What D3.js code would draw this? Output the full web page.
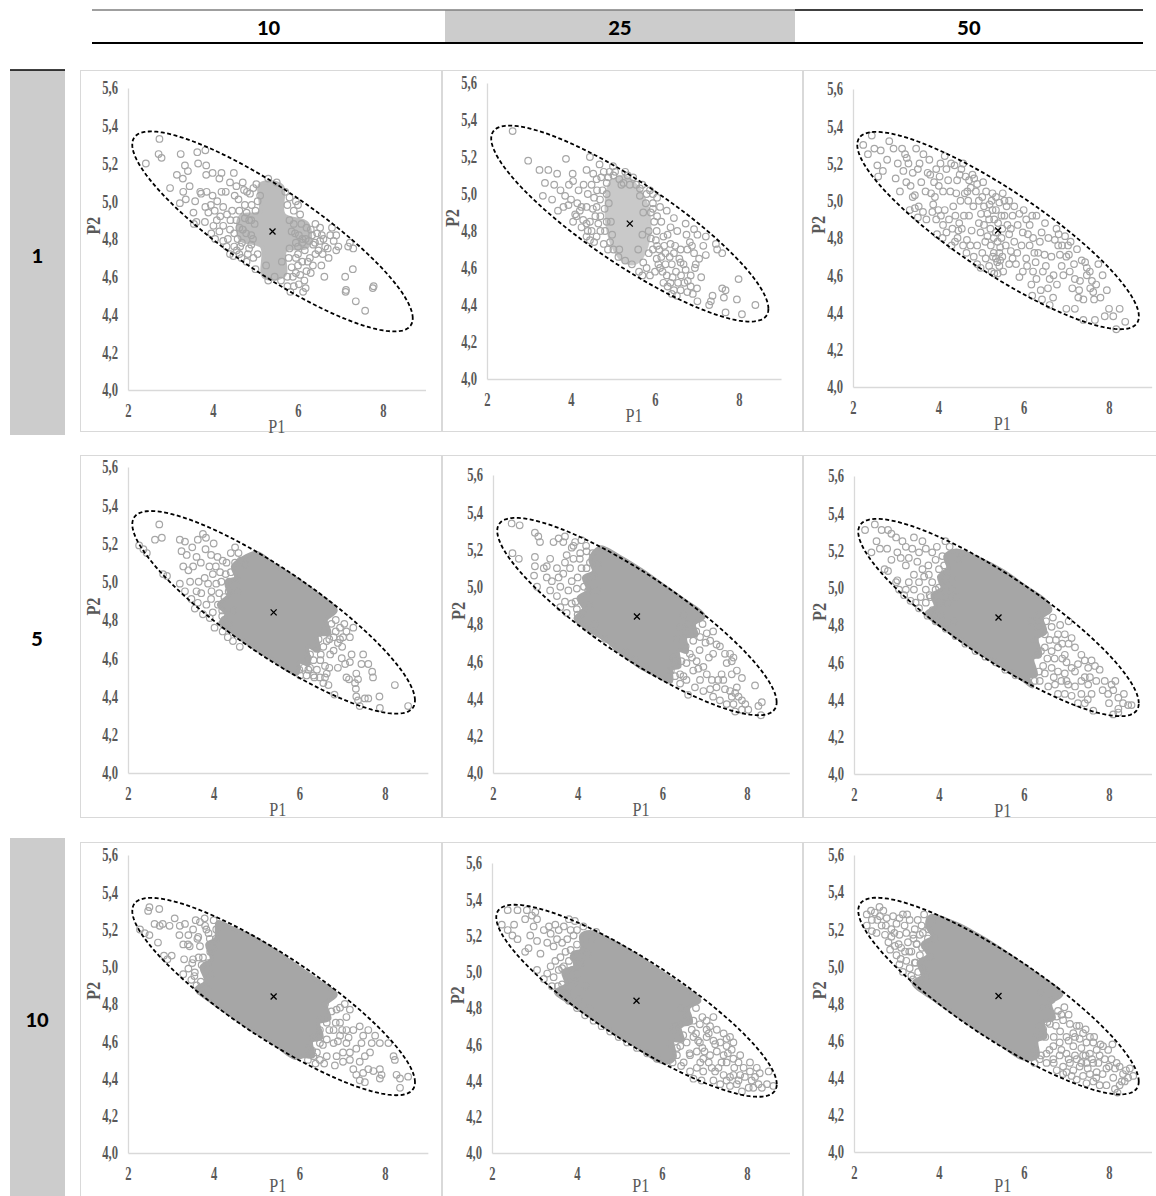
<!DOCTYPE html>
<html>
<head>
<meta charset="utf-8">
<script src="https://cdnjs.cloudflare.com/ajax/libs/d3/7.8.5/d3.min.js"></script>
<style>
  body { margin: 0; background: #fff; }
</style>
</head>
<body>
<div id="chart"></div>
<script>
// ---- data ----
var colLabels = ["10", "25", "50"];
var rowLabels = ["1", "5", "10"];
var xTicks = [2, 4, 6, 8];
var yTicks = [4.0, 4.2, 4.4, 4.6, 4.8, 5.0, 5.2, 5.4, 5.6];
var centre = [5.4, 4.84];
// confidence ellipse: P1 = cx + a cos t, P2 = cy + b cos t + c sin t
var ellipseAxes = [3.3, -0.46, 0.263];

// row "1"
var pts_1_10 = [[2.42,5.20],[2.74,5.33],[2.72,5.25],[2.79,5.23],[2.99,5.07],[3.24,5.25],[3.34,5.19],[3.29,5.12],[3.41,5.16],[3.30,5.05],[3.36,5.01],[3.22,4.99],[3.58,5.00],[3.54,4.94],[3.55,4.88],[3.61,4.89],[3.65,5.20],[3.63,5.26],[3.82,5.27],[3.84,5.19],[3.84,5.14],[3.70,5.05],[3.72,5.04],[3.82,4.97],[3.81,4.89],[3.99,5.15],[4.20,5.15],[4.15,5.12],[3.99,5.03],[3.89,4.94],[4.04,4.95],[4.09,4.90],[4.17,4.92],[4.24,4.87],[4.49,5.15],[4.70,5.10],[4.73,5.06],[4.51,5.03],[4.60,5.01],[4.24,4.97],[4.33,4.93],[4.41,4.90],[4.15,4.84],[4.24,4.79],[4.32,4.76],[3.96,4.83],[4.05,4.80],[4.01,4.87],[4.56,4.74],[4.67,4.70],[4.79,4.68],[4.48,4.71],[4.64,4.76],[4.87,5.04],[4.95,5.07],[5.11,5.03],[4.91,4.98],[4.79,4.94],[4.45,4.95],[4.55,4.90],[4.62,4.86],[4.50,4.83],[4.40,4.85],[4.35,4.80],[4.58,4.80],[4.70,4.85],[4.85,4.90],[4.90,4.82],[4.85,4.75],[4.95,4.70],[5.00,4.64],[5.05,4.72],[4.98,4.88],[5.05,5.00],[5.02,5.09],[5.30,5.12],[5.50,5.10],[5.70,5.05],[5.75,4.98],[5.80,4.90],[5.90,4.95],[5.85,4.84],[5.95,4.78],[5.78,4.70],[5.85,4.65],[5.75,4.60],[5.60,4.58],[5.45,4.60],[5.30,4.58],[5.25,4.66],[5.62,4.68],[4.70,4.85],[4.78,4.83],[4.94,4.80],[5.93,4.83],[6.02,4.82],[6.10,4.78],[6.18,4.80],[6.26,4.79],[5.90,4.88],[6.00,4.76],[4.75,4.91],[5.80,4.75],[5.95,4.70],[6.00,4.98],[6.05,4.93],[6.20,4.86],[6.33,4.82],[6.56,4.82],[6.76,4.82],[6.84,4.79],[6.64,4.76],[6.41,4.72],[6.23,4.68],[6.20,4.63],[6.05,4.61],[5.90,4.55],[5.82,4.52],[6.16,4.74],[6.36,4.77],[6.52,4.79],[6.41,4.88],[6.10,4.80],[6.30,4.85],[6.45,4.83],[6.60,4.80],[6.70,4.75],[6.28,4.70],[6.10,4.68],[6.00,4.72],[6.15,4.58],[6.30,4.62],[6.55,4.66],[6.62,4.60],[6.12,4.52],[6.18,4.54],[6.95,4.76],[6.90,4.74],[7.18,4.76],[7.22,4.78],[7.11,4.60],[7.13,4.53],[7.29,4.64],[7.36,4.47],[7.58,4.42],[7.78,4.55],[7.76,4.54],[7.12,4.52],[7.30,4.75],[4.30,5.05],[4.40,5.10],[4.55,5.08],[4.62,4.95],[4.75,4.98],[4.80,5.05],[4.40,4.72],[4.50,4.76],[4.68,4.78],[4.62,4.72],[4.82,4.72],[4.90,4.77],[4.90,4.90],[5.00,4.95],[5.80,5.02],[5.95,5.00],[6.08,4.88],[6.40,4.78],[6.48,4.74],[6.58,4.72],[6.72,4.70],[6.80,4.86],[6.90,4.82],[6.52,4.86],[6.00,4.66],[6.35,4.66],[5.88,4.60],[5.95,4.62],[6.02,4.56],[5.75,4.55],[4.20,5.05],[4.10,5.00],[3.95,4.98],[3.45,5.08],[3.15,5.14],[3.85,5.05]];
var core_1_10 = [[5.12,5.09],[5.62,5.08],[5.66,4.93],[6.22,4.88],[6.22,4.76],[5.70,4.74],[5.68,4.61],[5.20,4.60],[5.15,4.76],[4.65,4.80],[4.65,4.92],[5.10,4.94]];

var pts_1_25 = [[2.61,5.34],[2.98,5.18],[3.25,5.13],[3.46,5.13],[3.38,5.06],[3.33,4.99],[3.67,5.11],[3.88,5.19],[4.04,5.11],[4.05,5.07],[3.86,4.99],[3.82,4.93],[3.69,4.91],[3.94,4.94],[4.10,4.89],[4.05,4.85],[4.29,4.86],[4.25,4.82],[4.45,4.85],[4.61,4.93],[4.37,4.93],[4.25,4.93],[4.49,5.05],[4.61,5.08],[4.45,5.20],[4.68,5.16],[4.37,5.13],[4.53,5.11],[4.72,5.09],[4.85,5.00],[4.69,4.97],[4.89,5.09],[5.01,5.10],[5.00,5.15],[5.29,5.12],[5.48,5.09],[5.64,5.03],[4.13,4.88],[4.21,4.91],[4.37,4.84],[4.49,4.80],[4.61,4.77],[4.81,4.80],[4.93,4.74],[5.01,4.70],[5.13,4.66],[5.29,4.64],[5.45,4.62],[4.37,4.77],[4.45,4.75],[5.64,4.99],[5.88,5.02],[5.72,4.90],[5.95,4.95],[6.12,4.93],[6.28,4.91],[6.45,4.87],[6.37,4.82],[6.53,4.80],[6.73,4.84],[6.93,4.81],[7.01,4.78],[7.21,4.77],[6.04,4.80],[6.20,4.77],[6.37,4.73],[6.45,4.68],[6.61,4.70],[5.95,4.70],[6.04,4.65],[6.12,4.60],[6.28,4.56],[6.37,4.52],[5.80,4.60],[5.88,4.56],[5.72,4.63],[6.61,4.63],[6.73,4.59],[6.85,4.56],[6.97,4.62],[6.93,4.68],[6.83,4.74],[6.77,4.70],[6.61,4.48],[6.77,4.47],[7.00,4.49],[7.01,4.42],[7.21,4.67],[7.45,4.73],[7.48,4.70],[7.60,4.68],[7.37,4.45],[7.33,4.42],[7.29,4.40],[7.60,4.49],[7.68,4.48],[7.64,4.44],[7.68,4.36],[7.95,4.43],[7.99,4.54],[8.07,4.35],[8.39,4.40],[4.75,5.02],[4.80,4.92],[4.90,4.95],[4.95,4.85],[4.70,4.88],[4.85,4.85],[5.90,4.90],[5.98,4.85],[6.05,4.88],[6.15,4.85],[6.22,4.72],[6.30,4.78],[6.15,4.66],[6.25,4.62],[6.05,4.72],[5.90,4.76],[5.85,4.68],[5.70,4.56],[5.62,4.58],[6.00,4.58],[6.40,4.62],[6.50,4.58],[6.55,4.52],[6.45,4.48],[6.30,4.50],[6.20,4.52],[6.70,4.52],[6.85,4.50],[5.80,5.00],[5.95,5.00],[6.05,4.98],[5.40,5.05],[5.20,5.05],[5.15,4.70],[5.60,4.70],[5.70,4.78],[4.98,4.78],[4.55,4.98],[4.62,5.02],[4.78,5.12],[4.85,5.06],[4.70,4.80],[4.78,4.73],[4.88,4.70],[4.92,5.12],[5.05,5.12],[5.15,5.08],[5.25,5.06],[5.35,5.10],[5.55,5.05],[5.70,5.05],[5.78,4.95],[5.85,4.80],[5.95,4.92],[6.02,4.75],[6.10,4.70],[6.08,4.62],[6.18,4.58],[6.25,4.68],[6.35,4.66],[6.42,4.55],[6.48,4.72],[6.58,4.65],[6.62,4.56],[6.68,4.62],[6.75,4.78],[6.88,4.72],[6.95,4.60],[7.05,4.65],[7.10,4.55],[7.15,4.72],[6.78,4.53],[6.90,4.46],[6.52,4.45],[6.40,4.46],[4.40,5.00],[4.30,5.05],[4.18,5.02],[4.00,4.97],[3.95,5.05],[3.75,5.02],[3.60,5.05],[3.55,4.97],[4.15,4.95],[4.58,4.88],[4.65,4.84],[4.52,4.92],[4.40,4.80],[4.55,4.74]];
var core_1_25 = [[4.95,5.06],[5.30,5.09],[5.65,5.01],[5.85,4.88],[5.80,4.72],[5.55,4.63],[5.25,4.64],[5.00,4.72],[4.85,4.88]];

var pts_1_50 = [[2.24,5.30],[2.44,5.35],[2.57,5.19],[2.59,5.13],[2.80,5.22],[2.85,5.32],[3.18,5.16],[3.22,5.25],[3.26,5.23],[3.30,5.20],[3.40,5.02],[3.45,5.03],[3.33,4.95],[3.48,5.28],[3.56,5.20],[3.52,5.17],[3.60,5.10],[3.54,4.97],[3.52,4.91],[3.64,4.94],[3.79,5.22],[3.81,5.14],[3.83,5.04],[3.88,4.98],[3.86,4.94],[3.95,5.17],[4.03,5.13],[4.01,5.08],[4.11,5.05],[4.15,5.24],[4.19,5.17],[4.23,5.11],[3.95,4.90],[3.97,4.82],[4.06,4.92],[4.11,4.87],[4.19,4.83],[4.25,4.90],[4.35,4.97],[4.42,5.04],[4.44,5.11],[4.38,5.19],[4.54,5.17],[4.58,5.20],[4.31,4.76],[4.39,4.78],[4.47,4.84],[4.49,4.88],[4.60,4.92],[4.67,4.79],[4.75,4.76],[4.83,4.70],[4.91,4.66],[4.99,4.64],[4.66,4.72],[4.64,5.13],[4.72,5.11],[4.84,5.12],[4.91,5.09],[4.76,5.07],[4.88,5.05],[4.68,5.05],[4.80,5.14],[4.70,5.00],[5.03,5.02],[5.07,4.97],[5.15,4.93],[5.19,4.90],[5.27,5.04],[5.35,5.02],[5.43,4.99],[5.27,4.95],[5.31,4.90],[5.35,4.83],[5.39,4.78],[5.43,4.72],[5.35,4.69],[5.43,4.65],[5.39,4.61],[5.23,4.76],[5.15,4.81],[5.07,4.87],[4.95,4.88],[4.99,4.83],[4.91,4.76],[5.03,4.72],[5.11,4.69],[5.19,4.65],[5.31,4.61],[5.55,4.92],[5.62,4.87],[5.66,4.82],[5.58,4.76],[5.70,4.73],[5.74,4.69],[5.82,4.66],[5.66,4.66],[5.51,5.04],[5.66,5.00],[5.78,4.97],[5.74,4.92],[5.90,4.93],[5.86,4.87],[5.98,4.83],[6.06,4.90],[6.14,4.87],[6.22,4.80],[6.14,4.76],[6.06,4.69],[5.98,4.62],[5.90,4.59],[6.30,4.92],[6.42,4.83],[6.34,4.72],[6.28,4.67],[6.22,4.62],[6.18,4.55],[6.49,4.71],[6.45,4.62],[6.61,4.58],[6.57,4.53],[6.69,4.48],[6.77,4.85],[6.73,4.79],[6.81,4.76],[6.85,4.71],[6.97,4.81],[6.89,4.65],[6.93,4.60],[7.08,4.62],[6.61,4.44],[6.43,4.47],[6.20,4.49],[7.04,4.76],[7.06,4.71],[7.14,4.53],[7.28,4.48],[7.32,4.57],[7.36,4.68],[7.44,4.67],[7.48,4.60],[7.40,4.47],[7.56,4.53],[7.60,4.57],[7.63,4.51],[7.48,4.64],[7.65,4.47],[7.67,4.36],[7.40,4.36],[8.17,4.31],[8.38,4.35],[7.75,4.66],[2.35,5.25],[2.50,5.28],[2.65,5.27],[2.70,5.16],[2.95,5.28],[3.00,5.12],[3.05,5.20],[3.10,5.05],[3.15,5.28],[3.25,5.10],[3.35,5.08],[3.40,5.15],[3.45,4.96],[3.65,5.25],[3.70,5.05],[3.72,4.90],[3.75,5.15],[3.90,5.10],[3.92,5.02],[4.00,4.95],[4.05,5.20],[4.10,4.80],[4.15,4.95],[4.28,5.05],[4.30,5.20],[4.33,4.85],[4.40,4.92],[4.45,4.80],[4.50,5.14],[4.52,5.00],[4.55,4.85],[4.58,4.76],[4.62,5.04],[4.72,4.92],[4.78,4.84],[4.82,4.97],[4.95,5.00],[5.00,4.93],[5.05,5.10],[5.10,4.78],[5.12,5.05],[5.20,4.98],[5.22,4.85],[5.28,4.70],[5.48,4.80],[5.50,4.70],[5.52,4.62],[5.60,4.97],[5.70,4.85],[5.78,4.78],[5.85,4.72],[5.95,4.76],[6.00,4.95],[6.08,4.65],[6.10,4.82],[6.20,4.92],[6.25,4.72],[6.30,4.58],[6.38,4.78],[6.40,4.52],[6.50,4.88],[6.52,4.65],[6.58,4.80],[6.65,4.70],[6.70,4.60],[6.78,4.55],[6.82,4.82],[6.90,4.76],[7.00,4.70],[7.10,4.78],[7.18,4.66],[7.20,4.58],[7.25,4.74],[7.30,4.52],[7.55,4.62],[7.70,4.55],[7.80,4.48],[7.85,4.60],[7.95,4.52],[8.00,4.42],[8.10,4.38],[8.25,4.42],[7.90,4.38],[7.20,4.42],[7.00,4.42],[5.25,5.00],[5.30,4.80],[5.35,4.95],[5.40,4.88],[5.45,4.75],[5.48,4.92],[5.30,4.72],[5.50,4.85],[5.38,4.67],[5.55,5.00],[5.25,4.62],[5.45,4.68]];
var core_1_50 = [];

// row "5"
var pts_5_10 = [[2.26,5.19],[2.36,5.17],[2.44,5.15],[2.73,5.30],[2.63,5.22],[2.79,5.23],[2.82,5.04],[2.91,5.03],[3.21,5.22],[3.33,5.21],[3.25,5.16],[3.37,5.14],[3.29,5.08],[3.41,5.06],[3.52,5.08],[3.60,5.13],[3.63,5.22],[3.82,5.23],[3.81,5.17],[3.94,5.14],[4.09,5.13],[4.21,5.11],[3.21,4.99],[3.33,4.95],[3.48,4.91],[3.56,4.86],[3.63,4.89],[3.71,4.94],[3.87,4.99],[3.79,5.02],[3.98,5.04],[4.06,4.99],[4.13,4.94],[3.94,4.91],[3.83,4.88],[3.75,4.83],[3.91,4.81],[3.98,4.84],[4.02,4.76],[4.21,4.74],[4.33,4.71],[4.45,4.69],[4.61,4.66],[4.28,5.04],[4.36,5.00],[4.55,5.01],[4.63,5.11],[4.74,5.09],[3.45,5.00],[3.65,5.00],[3.70,5.10],[3.90,5.08],[4.00,5.20],[4.15,5.05],[4.20,4.85],[3.60,4.95],[3.50,5.18],[3.75,5.25],[4.40,5.15],[4.50,5.10],[6.95,4.76],[7.10,4.74],[7.18,4.71],[7.02,4.71],[7.26,4.76],[6.80,4.71],[6.64,4.69],[6.56,4.66],[6.80,4.64],[6.49,4.59],[6.41,4.54],[6.64,4.52],[6.56,4.47],[6.68,4.46],[6.33,4.51],[6.17,4.51],[6.02,4.51],[6.21,4.54],[6.33,4.59],[6.25,4.62],[6.99,4.60],[7.07,4.57],[7.18,4.58],[7.22,4.62],[7.10,4.50],[7.16,4.49],[7.33,4.52],[7.30,4.47],[7.37,4.49],[7.45,4.57],[7.49,4.62],[7.61,4.57],[7.72,4.50],[7.70,4.53],[7.32,4.44],[7.33,4.40],[7.37,4.38],[7.53,4.39],[7.61,4.39],[7.41,4.35],[7.87,4.40],[7.88,4.34],[8.23,4.46],[8.54,4.35],[6.82,4.41],[6.90,4.68],[6.72,4.62],[6.60,4.56],[6.48,4.50],[6.90,4.55],[7.00,4.66],[6.85,4.80],[7.05,4.78],[3.95,4.95],[4.05,5.08],[4.10,4.88],[4.18,5.00],[4.25,4.92],[4.25,4.80],[4.30,5.10],[4.35,4.95],[4.40,5.05],[4.45,4.85],[4.50,5.18],[4.55,4.95],[4.58,5.15],[4.35,4.78],[4.20,4.82],[6.20,4.60],[6.25,4.55],[6.40,4.65],[6.45,4.70],[6.50,4.62],[6.55,4.74],[6.70,4.70],[6.75,4.78],[6.85,4.74],[6.70,4.55],[6.95,4.70],[6.10,4.55],[6.00,4.54],[6.35,4.50],[6.60,4.50]];
var core_5_10 = [[4.65,5.12],[5.00,5.15],[5.40,5.09],[5.90,5.02],[6.40,4.94],[6.85,4.85],[6.62,4.80],[6.70,4.73],[6.42,4.72],[6.45,4.64],[6.20,4.66],[6.22,4.57],[6.00,4.58],[5.95,4.52],[5.40,4.59],[4.90,4.66],[4.40,4.74],[4.15,4.78],[4.30,4.83],[4.12,4.88],[4.35,4.93],[4.30,5.00],[4.52,5.02],[4.45,5.08]];

var pts_5_25 = [[2.44,5.34],[2.63,5.33],[2.46,5.18],[2.61,5.15],[2.99,5.29],[3.07,5.27],[3.11,5.24],[2.99,5.16],[2.99,5.11],[2.97,5.06],[3.04,5.00],[3.20,5.10],[3.27,5.11],[3.35,5.15],[3.43,5.24],[3.55,5.26],[3.66,5.24],[3.70,5.27],[3.27,5.05],[3.39,5.03],[3.35,4.98],[3.51,4.95],[3.59,5.00],[3.55,5.05],[3.51,5.10],[3.66,5.07],[3.70,5.13],[3.74,5.17],[3.86,5.21],[3.94,5.24],[4.09,5.25],[4.06,5.18],[3.90,5.15],[3.82,5.10],[3.86,5.03],[3.78,4.98],[3.70,4.92],[3.59,4.89],[3.86,4.91],[3.98,4.88],[4.21,5.19],[4.29,5.13],[4.21,5.10],[4.37,5.06],[4.09,5.10],[3.98,4.99],[4.25,4.98],[3.74,4.86],[4.06,4.82],[4.21,4.78],[4.41,4.75],[4.65,4.72],[4.84,4.68],[5.12,4.65],[5.35,4.61],[5.59,4.57],[6.42,4.78],[6.57,4.75],[6.73,4.71],[6.89,4.73],[7.05,4.75],[7.13,4.71],[7.28,4.69],[7.20,4.64],[7.36,4.68],[7.48,4.64],[7.60,4.64],[7.64,4.60],[7.68,4.62],[7.52,4.59],[7.40,4.53],[7.44,4.50],[7.32,4.50],[7.17,4.50],[7.05,4.53],[6.97,4.57],[6.81,4.60],[6.65,4.64],[6.57,4.59],[6.73,4.55],[6.89,4.50],[6.77,4.46],[6.57,4.50],[6.42,4.53],[6.42,4.48],[6.61,4.42],[7.20,4.41],[7.36,4.39],[7.52,4.37],[7.68,4.37],[7.64,4.41],[7.72,4.43],[7.76,4.46],[7.60,4.44],[7.80,4.41],[7.88,4.39],[7.96,4.37],[8.03,4.34],[7.88,4.34],[7.72,4.33],[8.19,4.47],[8.27,4.36],[8.33,4.31],[8.35,4.38],[7.88,4.51],[7.76,4.55],[7.28,4.46],[7.13,4.45],[6.97,4.44],[7.64,4.53],[7.48,4.45],[6.50,4.85],[6.30,4.60],[6.20,4.55],[3.95,4.92],[4.00,5.05],[4.05,5.15],[4.12,4.86],[4.15,5.00],[4.20,5.22],[4.28,4.90],[4.30,5.05],[4.35,5.18],[4.40,4.80],[4.45,4.98],[4.48,5.12],[4.58,5.20],[3.90,5.22],[4.00,4.85],[6.25,4.62],[6.35,4.72],[6.45,4.60],[6.55,4.68],[6.62,4.80],[6.70,4.62],[6.80,4.76],[6.88,4.66],[6.95,4.80],[7.02,4.70],[6.30,4.52],[6.50,4.52],[6.85,4.56],[7.10,4.62],[7.20,4.76]];
var core_5_25 = [[4.53,5.21],[5.00,5.16],[5.50,5.09],[6.00,5.01],[6.50,4.93],[6.98,4.84],[6.75,4.80],[6.80,4.74],[6.55,4.73],[6.58,4.65],[6.38,4.66],[6.40,4.57],[6.22,4.56],[6.20,4.49],[5.90,4.52],[5.47,4.57],[5.00,4.65],[4.69,4.71],[4.13,4.79],[3.95,4.83],[4.15,4.88],[4.02,4.94],[4.25,4.98],[4.15,5.05],[4.38,5.08],[4.30,5.15]];

var pts_5_50 = [[2.26,5.31],[2.49,5.34],[2.65,5.31],[2.80,5.31],[2.88,5.29],[2.99,5.27],[2.53,5.25],[2.41,5.19],[2.61,5.21],[2.78,5.21],[2.88,5.15],[2.72,5.10],[2.80,5.09],[3.02,5.19],[3.14,5.25],[3.22,5.22],[3.10,5.16],[3.29,5.16],[3.22,5.12],[3.02,5.04],[2.99,5.03],[3.37,5.21],[3.41,5.27],[3.61,5.25],[3.53,5.19],[3.69,5.21],[3.49,5.14],[3.61,5.10],[3.41,5.07],[3.29,5.03],[3.22,4.99],[3.41,4.99],[3.53,5.03],[3.65,5.06],[3.76,5.07],[3.84,5.19],[3.92,5.15],[4.00,5.10],[3.84,5.03],[3.69,4.99],[3.57,4.95],[3.45,4.92],[3.69,4.92],[3.80,4.95],[3.92,4.99],[4.08,5.03],[4.16,5.08],[4.08,5.17],[4.00,4.92],[4.16,4.95],[4.31,4.99],[3.06,4.99],[3.18,4.96],[3.33,4.93],[3.53,4.89],[3.73,4.85],[3.92,4.82],[4.16,4.78],[4.39,4.74],[4.62,4.70],[4.86,4.66],[5.09,4.63],[5.33,4.60],[5.56,4.56],[5.80,4.53],[6.18,4.82],[6.33,4.79],[6.49,4.75],[6.65,4.79],[6.80,4.75],[6.96,4.75],[7.12,4.73],[6.49,4.68],[6.33,4.64],[6.65,4.66],[6.80,4.68],[6.96,4.64],[7.20,4.68],[7.35,4.64],[7.43,4.61],[7.51,4.57],[7.59,4.61],[7.67,4.58],[7.78,4.56],[7.27,4.59],[7.12,4.57],[6.96,4.54],[6.80,4.55],[6.65,4.57],[6.49,4.54],[6.37,4.50],[6.57,4.47],[6.73,4.48],[6.88,4.50],[7.04,4.48],[7.20,4.47],[7.35,4.43],[7.27,4.38],[7.43,4.38],[7.12,4.42],[6.96,4.43],[6.80,4.43],[7.51,4.48],[7.43,4.52],[7.59,4.43],[7.63,4.34],[7.90,4.50],[8.06,4.48],[8.10,4.45],[7.98,4.43],[8.22,4.41],[8.33,4.38],[8.45,4.37],[8.53,4.37],[8.22,4.35],[8.10,4.32],[8.22,4.33],[3.75,5.12],[3.85,4.88],[3.95,5.22],[4.00,5.00],[4.05,4.85],[4.12,5.12],[4.20,4.92],[4.25,5.22],[4.30,5.05],[4.35,4.82],[4.40,4.95],[4.45,5.15],[3.78,4.96],[4.15,5.25],[4.55,5.18],[6.25,4.72],[6.35,4.85],[6.40,4.66],[6.45,4.58],[6.52,4.82],[6.55,4.62],[6.60,4.72],[6.68,4.84],[6.72,4.62],[6.35,4.55],[6.25,4.50],[6.85,4.80],[6.90,4.70],[7.00,4.60],[7.05,4.82],[6.75,4.72],[6.90,4.62],[7.05,4.70],[7.20,4.55],[7.35,4.50],[7.55,4.52],[7.70,4.50],[7.85,4.45],[8.00,4.38],[7.50,4.40],[7.00,4.50],[6.70,4.52],[8.35,4.43],[8.15,4.50]];
var core_5_50 = [[4.40,5.20],[5.00,5.15],[5.50,5.09],[6.00,5.01],[6.50,4.93],[6.62,4.88],[6.42,4.84],[6.50,4.76],[6.30,4.73],[6.38,4.64],[6.20,4.62],[6.28,4.53],[6.10,4.52],[6.20,4.47],[5.90,4.52],[5.40,4.59],[4.90,4.66],[4.40,4.74],[3.90,4.82],[3.70,4.86],[3.92,4.90],[3.85,4.96],[4.08,5.00],[4.00,5.06],[4.22,5.10],[4.15,5.17]];

// row "10"
var pts_10_10 = [[2.28,5.20],[2.39,5.18],[2.50,5.17],[2.47,5.30],[2.50,5.32],[2.73,5.31],[2.62,5.23],[2.74,5.22],[2.81,5.23],[2.97,5.22],[2.70,5.13],[2.84,5.06],[2.92,5.04],[3.02,5.06],[3.09,5.26],[3.21,5.22],[3.33,5.23],[3.20,5.17],[3.29,5.12],[3.41,5.17],[3.31,5.04],[3.44,5.11],[3.52,5.20],[3.68,5.24],[3.79,5.26],[3.83,5.20],[3.64,5.16],[3.68,5.11],[3.52,5.04],[3.41,4.99],[3.29,4.96],[3.48,4.93],[3.56,4.97],[3.60,4.90],[3.72,5.01],[3.68,4.87],[3.87,5.02],[3.91,5.15],[3.99,5.10],[4.06,5.20],[6.87,4.77],[7.06,4.80],[7.18,4.77],[7.10,4.73],[6.95,4.70],[6.80,4.66],[6.64,4.70],[6.48,4.66],[6.33,4.63],[6.48,4.59],[6.64,4.61],[6.80,4.59],[6.95,4.63],[7.10,4.66],[7.26,4.66],[7.41,4.68],[7.49,4.63],[7.45,4.59],[7.33,4.56],[7.18,4.54],[7.02,4.54],[6.87,4.52],[6.64,4.52],[6.48,4.50],[6.33,4.52],[6.21,4.56],[6.41,4.54],[6.83,4.47],[7.02,4.49],[7.18,4.50],[7.26,4.45],[7.33,4.42],[7.41,4.49],[7.53,4.52],[7.65,4.54],[7.69,4.59],[7.77,4.63],[7.61,4.66],[7.88,4.59],[7.61,4.45],[7.49,4.43],[7.73,4.44],[7.88,4.45],[7.92,4.42],[7.88,4.40],[7.53,4.38],[7.41,4.39],[8.08,4.59],[8.20,4.52],[8.23,4.50],[8.27,4.42],[8.35,4.40],[8.35,4.35],[8.54,4.41],[7.10,4.59],[3.55,4.95],[3.62,5.15],[3.70,4.92],[3.75,5.05],[3.80,5.22],[3.85,4.88],[3.92,5.08],[3.95,4.96],[4.00,5.25],[4.05,5.15],[3.65,5.05],[3.50,5.02],[3.40,5.12],[3.88,5.18],[3.58,5.25],[6.30,4.55],[6.40,4.62],[6.50,4.72],[6.55,4.58],[6.60,4.80],[6.70,4.66],[6.75,4.76],[6.85,4.70],[6.95,4.78],[6.20,4.50],[6.38,4.48],[6.58,4.48],[7.00,4.66],[7.15,4.62],[6.90,4.60]];
var core_10_10 = [[4.10,5.24],[4.40,5.21],[4.90,5.16],[5.40,5.09],[5.90,5.01],[6.40,4.93],[6.85,4.85],[6.62,4.80],[6.70,4.72],[6.45,4.70],[6.52,4.62],[6.28,4.60],[6.32,4.52],[6.10,4.52],[5.90,4.51],[5.40,4.59],[4.90,4.66],[4.40,4.74],[3.90,4.82],[3.60,4.88],[3.82,4.92],[3.72,5.00],[3.95,5.04],[3.85,5.12],[4.05,5.15]];

var pts_10_25 = [[2.23,5.26],[2.37,5.34],[2.60,5.34],[2.37,5.23],[2.48,5.20],[2.60,5.18],[2.52,5.26],[2.78,5.29],[2.82,5.34],[2.94,5.31],[3.02,5.33],[3.06,5.29],[2.98,5.25],[2.90,5.20],[3.06,5.17],[2.86,5.13],[2.78,5.11],[3.14,5.10],[3.22,5.23],[3.34,5.25],[3.38,5.21],[3.49,5.26],[3.57,5.23],[3.69,5.25],[3.81,5.29],[3.85,5.23],[3.92,5.20],[4.00,5.23],[3.30,5.16],[3.45,5.14],[3.53,5.18],[3.65,5.16],[3.77,5.18],[3.73,5.11],[3.61,5.08],[3.49,5.06],[3.38,5.03],[3.30,4.99],[3.45,4.97],[3.57,5.01],[3.69,5.03],[3.81,5.06],[3.92,5.08],[3.89,5.01],[3.77,4.97],[3.65,4.93],[3.81,4.92],[3.92,4.94],[4.00,4.99],[4.15,5.12],[4.07,5.04],[3.06,5.01],[3.22,4.96],[3.41,4.92],[3.61,4.88],[3.81,4.84],[4.00,4.80],[4.19,4.76],[4.39,4.73],[4.58,4.70],[4.78,4.67],[4.98,4.64],[5.18,4.61],[5.41,4.58],[5.65,4.55],[5.88,4.52],[6.27,4.68],[6.43,4.71],[6.58,4.75],[6.74,4.73],[6.89,4.71],[7.05,4.73],[7.13,4.70],[7.21,4.75],[7.29,4.68],[7.45,4.66],[7.52,4.63],[7.60,4.64],[7.68,4.61],[7.64,4.57],[7.52,4.59],[7.37,4.61],[7.21,4.62],[7.05,4.64],[6.89,4.61],[6.74,4.64],[6.58,4.61],[6.43,4.59],[6.35,4.54],[6.51,4.50],[6.66,4.54],[6.82,4.56],[6.97,4.52],[7.13,4.54],[7.29,4.56],[7.45,4.54],[7.52,4.50],[7.68,4.52],[7.80,4.50],[7.84,4.54],[7.92,4.47],[7.84,4.43],[7.68,4.43],[7.52,4.40],[7.45,4.43],[7.33,4.47],[7.17,4.47],[6.97,4.45],[6.82,4.47],[6.66,4.45],[6.74,4.41],[6.93,4.40],[7.21,4.40],[7.37,4.38],[7.60,4.37],[7.76,4.38],[7.88,4.34],[8.04,4.36],[8.11,4.40],[8.23,4.47],[8.07,4.50],[8.27,4.38],[8.35,4.36],[8.47,4.38],[8.51,4.45],[8.62,4.37],[8.07,4.45],[8.19,4.42],[3.55,4.92],[3.65,5.02],[3.75,4.88],[3.85,5.12],[3.95,4.95],[4.00,5.15],[4.05,4.85],[4.10,5.05],[4.15,5.25],[4.20,4.92],[4.25,5.10],[4.30,4.80],[4.35,5.18],[4.45,5.22],[3.95,5.28],[6.20,4.60],[6.30,4.70],[6.35,4.58],[6.45,4.80],[6.50,4.65],[6.60,4.76],[6.65,4.55],[6.70,4.68],[6.80,4.80],[6.85,4.62],[6.95,4.75],[6.25,4.50],[6.45,4.48],[7.05,4.68],[7.00,4.56],[6.80,4.66],[6.95,4.58],[7.10,4.66],[7.25,4.60],[7.40,4.50],[7.55,4.55],[7.70,4.47],[7.95,4.42],[8.15,4.36],[8.30,4.44],[7.10,4.50],[6.90,4.50],[7.25,4.45],[7.60,4.42],[7.80,4.40]];
var core_10_25 = [[4.30,5.22],[4.90,5.16],[5.40,5.09],[5.90,5.01],[6.40,4.93],[6.88,4.84],[6.62,4.80],[6.68,4.72],[6.42,4.70],[6.48,4.62],[6.25,4.62],[6.30,4.53],[6.15,4.50],[5.90,4.51],[5.40,4.59],[4.90,4.66],[4.40,4.74],[3.90,4.82],[3.50,4.89],[3.75,4.93],[3.68,5.00],[3.95,5.03],[3.90,5.10],[4.12,5.12],[4.10,5.20]];

var pts_10_50 = [[2.30,5.28],[2.30,5.22],[2.42,5.25],[2.49,5.29],[2.61,5.27],[2.69,5.30],[2.77,5.26],[2.65,5.22],[2.53,5.18],[2.42,5.19],[2.73,5.17],[2.88,5.16],[2.81,5.13],[2.88,5.20],[3.00,5.23],[3.07,5.26],[3.15,5.28],[3.31,5.25],[3.19,5.22],[3.23,5.18],[3.07,5.17],[2.96,5.11],[2.85,5.09],[3.00,5.06],[3.11,5.10],[3.27,5.13],[3.39,5.17],[3.43,5.20],[3.59,5.22],[3.55,5.17],[3.47,5.12],[3.35,5.08],[3.23,5.03],[3.07,5.01],[3.15,4.97],[3.31,4.99],[3.43,5.02],[3.55,5.06],[3.67,5.11],[3.74,5.15],[3.51,4.97],[3.39,4.93],[3.63,4.99],[6.30,4.62],[6.45,4.66],[6.61,4.69],[6.77,4.73],[6.92,4.71],[7.08,4.69],[7.24,4.68],[7.16,4.64],[7.00,4.62],[6.84,4.59],[6.69,4.57],[6.53,4.53],[6.37,4.50],[6.53,4.48],[6.69,4.50],[6.84,4.52],[7.00,4.53],[7.16,4.57],[7.31,4.61],[7.39,4.64],[7.47,4.59],[7.55,4.62],[7.63,4.59],[7.71,4.55],[7.55,4.53],[7.39,4.52],[7.24,4.50],[7.08,4.48],[6.92,4.46],[6.77,4.44],[7.00,4.43],[7.16,4.44],[7.31,4.46],[7.47,4.48],[7.63,4.48],[7.39,4.41],[7.24,4.39],[7.55,4.42],[7.71,4.43],[7.78,4.52],[7.86,4.57],[7.98,4.55],[8.08,4.58],[8.06,4.50],[8.18,4.48],[7.94,4.45],[8.14,4.45],[8.25,4.46],[8.33,4.42],[8.45,4.40],[8.57,4.41],[8.49,4.45],[8.37,4.38],[8.25,4.36],[8.14,4.34],[8.20,4.32],[7.94,4.36],[7.78,4.36],[7.63,4.38],[7.47,4.37],[7.12,4.41],[6.92,4.42],[3.45,5.02],[3.50,5.25],[3.55,4.92],[3.60,5.10],[3.65,5.28],[3.70,4.95],[3.75,5.20],[3.80,5.05],[3.85,5.25],[3.40,5.15],[3.30,5.08],[3.35,4.95],[3.62,5.18],[3.90,5.15],[3.48,5.12],[6.25,4.55],[6.35,4.68],[6.40,4.52],[6.45,4.78],[6.50,4.62],[6.55,4.70],[6.60,4.55],[6.65,4.82],[6.70,4.62],[6.80,4.76],[6.85,4.65],[6.95,4.78],[6.40,4.86],[6.25,4.48],[7.05,4.74],[6.75,4.68],[6.88,4.74],[7.05,4.60],[7.20,4.62],[7.35,4.56],[7.45,4.52],[7.60,4.50],[7.75,4.48],[7.90,4.50],[8.00,4.46],[8.10,4.40],[8.30,4.38],[8.40,4.44],[7.85,4.42],[7.70,4.40],[7.50,4.45],[7.35,4.48],[7.20,4.52],[7.05,4.50],[6.88,4.55],[6.70,4.48],[7.30,4.68],[7.45,4.66],[7.65,4.62],[7.80,4.58],[2.40,5.30],[2.55,5.25],[2.60,5.32],[2.75,5.22],[2.95,5.18],[3.05,5.12],[3.20,5.08],[3.10,5.04],[2.92,5.27],[3.25,5.28]];
var core_10_50 = [[3.80,5.27],[4.40,5.23],[4.90,5.17],[5.40,5.10],[5.90,5.02],[6.40,4.94],[6.88,4.85],[6.62,4.80],[6.70,4.72],[6.45,4.70],[6.50,4.62],[6.30,4.60],[6.32,4.52],[6.15,4.50],[5.90,4.51],[5.40,4.59],[4.90,4.66],[4.40,4.74],[3.90,4.82],[3.40,4.91],[3.62,4.95],[3.52,5.02],[3.75,5.06],[3.62,5.12],[3.85,5.16],[3.72,5.22]];

// ---- layout ----
var W = 1156, H = 1196;
var headX = [92, 445, 795, 1143];
var cellX = [[80, 442], [441, 803], [802, 1160]];
var cellY = [[70, 431], [455, 817], [842, 1210]];
var rowBand = [[70, 435], [455, 817], [838, 1200]];
// pixel of P1=2, P1=8, P2=5.6, P2=4.0 for each panel
var plotBox = [
  [[128, 383, 88, 390], [487, 739, 83, 379], [853, 1109, 89, 387]],
  [[128, 385, 467, 773], [493, 747, 475, 773], [854, 1109, 476, 774]],
  [[128, 385, 855, 1153], [492, 747, 863, 1153], [854, 1109, 855, 1152]]
];
var panels = [
  {r: 0, c: 0, pts: pts_1_10, core: core_1_10, op: 0.75},
  {r: 0, c: 1, pts: pts_1_25, core: core_1_25, op: 0.6},
  {r: 0, c: 2, pts: pts_1_50, core: core_1_50, op: 0.6},
  {r: 1, c: 0, pts: pts_5_10, core: core_5_10, op: 1},
  {r: 1, c: 1, pts: pts_5_25, core: core_5_25, op: 1},
  {r: 1, c: 2, pts: pts_5_50, core: core_5_50, op: 1},
  {r: 2, c: 0, pts: pts_10_10, core: core_10_10, op: 1},
  {r: 2, c: 1, pts: pts_10_25, core: core_10_25, op: 1},
  {r: 2, c: 2, pts: pts_10_50, core: core_10_50, op: 1}
];

var ptColor = "#a6a6a6";
var serif = "'Liberation Serif','Times New Roman',serif";
var sans = "Carlito,'Open Sans','Noto Sans',sans-serif";
var fmt = d3.formatLocale({decimal: ",", thousands: ".", grouping: [3], currency: ["", ""]}).format(".1f");

var svg = d3.select("#chart").append("svg")
    .attr("width", W).attr("height", H);

// ---- column header ----
colLabels.forEach(function(lab, i) {
  if (i == 1) {
    svg.append("rect")
      .attr("x", headX[i]).attr("y", 10)
      .attr("width", headX[i + 1] - headX[i]).attr("height", 33)
      .attr("fill", "#cccccc");
  }
  svg.append("line")
    .attr("x1", headX[i]).attr("x2", headX[i + 1])
    .attr("y1", 10).attr("y2", 10)
    .attr("stroke", i == 2 ? "#000" : "#7f7f7f")
    .attr("stroke-width", 1.5);
  svg.append("text")
    .attr("x", (headX[i] + headX[i + 1]) / 2).attr("y", 27)
    .attr("text-anchor", "middle").attr("dominant-baseline", "central")
    .style("font-family", sans).style("font-weight", "bold").style("font-size", "23px")
    .text(lab);
});
svg.append("line")
  .attr("x1", headX[0]).attr("x2", headX[3])
  .attr("y1", 43).attr("y2", 43)
  .attr("stroke", "#000").attr("stroke-width", 2);

// ---- row labels ----
rowLabels.forEach(function(lab, i) {
  if (i != 1) {
    svg.append("rect")
      .attr("x", 10).attr("y", rowBand[i][0])
      .attr("width", 55).attr("height", rowBand[i][1] - rowBand[i][0])
      .attr("fill", "#cccccc");
  }
  svg.append("text")
    .attr("x", 37).attr("y", (rowBand[i][0] + Math.min(rowBand[i][1], 1196)) / 2 + 2)
    .attr("text-anchor", "middle").attr("dominant-baseline", "central")
    .style("font-family", sans).style("font-weight", "bold").style("font-size", "23px")
    .text(lab);
});
svg.append("line")
  .attr("x1", 10).attr("x2", 65).attr("y1", 70).attr("y2", 70)
  .attr("stroke", "#000").attr("stroke-width", 1.5);

// ---- panels ----
panels.forEach(function(p) {
  var box = plotBox[p.r][p.c];
  var unit = (box[1] - box[0]) / 6;
  var x = d3.scaleLinear().domain([2, 9]).range([box[0], box[0] + 7 * unit]);
  var y = d3.scaleLinear().domain([4.0, 5.6]).range([box[3], box[2]]);
  var g = svg.append("g");

  g.append("rect")
    .attr("x", cellX[p.c][0] + 0.5).attr("y", cellY[p.r][0] + 0.5)
    .attr("width", cellX[p.c][1] - cellX[p.c][0])
    .attr("height", cellY[p.r][1] - cellY[p.r][0])
    .attr("fill", "none").attr("stroke", "#d9d9d9");

  // axes
  var yAxis = g.append("g")
    .attr("transform", "translate(" + x(2) + ",0)")
    .call(d3.axisLeft(y).tickValues(yTicks).tickSize(0).tickPadding(10).tickFormat(fmt));
  var xAxis = g.append("g")
    .attr("transform", "translate(0," + y(4) + ")")
    .call(d3.axisBottom(x).tickValues(xTicks).tickSize(0).tickPadding(14).tickFormat(d3.format("d")));
  [yAxis, xAxis].forEach(function(a) {
    a.select(".domain").attr("stroke", "#d9d9d9").attr("stroke-width", 1.3);
    a.selectAll("text")
      .attr("transform", "scale(0.7,1)")
      .style("font-family", serif).style("font-size", "18px").style("font-weight", "bold")
      .attr("fill", "#595959");
  });
  yAxis.selectAll("text").attr("x", -10 / 0.7);

  // axis titles
  var p1y = Math.min(y(4) + 37, 1186);
  g.append("g")
    .attr("transform", "translate(" + x(5.5) + "," + p1y + ")")
    .append("text").attr("transform", "scale(0.9,1)")
    .attr("text-anchor", "middle").attr("dominant-baseline", "central")
    .style("font-family", serif).style("font-size", "18px")
    .attr("fill", "#595959").text("P1");
  g.append("g")
    .attr("transform", "translate(" + (x(2) - 34) + "," + y(4.87) + ") rotate(-90)")
    .append("text").attr("transform", "scale(0.9,1)")
    .attr("text-anchor", "middle").attr("dominant-baseline", "central")
    .style("font-family", serif).style("font-size", "18px").style("font-weight", "bold")
    .attr("fill", "#595959").text("P2");

  // dense core where circles overlap completely
  if (p.core.length) {
    var area = d3.line()
      .x(function(d) { return x(d[0]); })
      .y(function(d) { return y(d[1]); })
      .curve(d3.curveCatmullRomClosed.alpha(0.5));
    g.append("path")
      .datum(p.core)
      .attr("d", area)
      .attr("fill", ptColor).attr("stroke", ptColor)
      .attr("stroke-width", 4).attr("stroke-linejoin", "round")
      .attr("opacity", p.op);
  }

  // points
  g.append("g").selectAll("circle")
    .data(p.pts)
    .join("circle")
      .attr("cx", function(d) { return x(d[0]); })
      .attr("cy", function(d) { return y(d[1]); })
      .attr("r", 3.3)
      .attr("fill", "none")
      .attr("stroke", ptColor)
      .attr("stroke-width", 1.2);

  // ellipse
  var ring = d3.range(0, 361, 2).map(function(deg) {
    var t = deg * Math.PI / 180;
    return [centre[0] + ellipseAxes[0] * Math.cos(t),
            centre[1] + ellipseAxes[1] * Math.cos(t) + ellipseAxes[2] * Math.sin(t)];
  });
  g.append("path")
    .datum(ring)
    .attr("d", d3.line().x(function(d) { return x(d[0]); }).y(function(d) { return y(d[1]); }))
    .attr("fill", "none").attr("stroke", "#000")
    .attr("stroke-width", 1.8).attr("stroke-dasharray", "4,2.5");

  // centre mark
  g.append("path")
    .attr("transform", "translate(" + x(centre[0]) + "," + y(centre[1]) + ")")
    .attr("d", "M-3,-3L3,3M-3,3L3,-3")
    .attr("stroke", "#000").attr("stroke-width", 1.3);
});
</script>
</body>
</html>
